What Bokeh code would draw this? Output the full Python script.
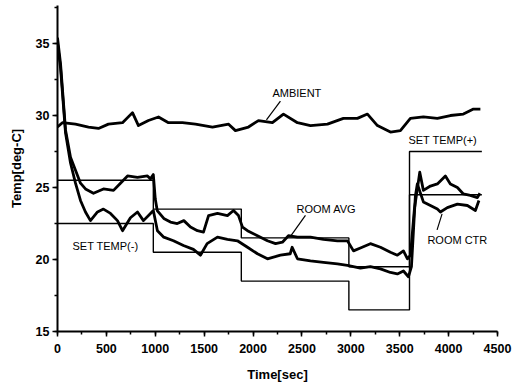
from bokeh.plotting import figure
from bokeh.models import SingleIntervalTicker, Range1d
from bokeh.core.properties import value
from bokeh.embed import file_html
from bokeh.resources import INLINE

# ---- data ----
amb_t = [0, 50, 184, 317, 419, 521, 665, 767, 828, 930, 1033, 1135, 1278, 1411, 1585, 1750, 1820,
         1953, 2055, 2198, 2311, 2454, 2587, 2761, 2924, 3067, 3170, 3272, 3405, 3507, 3609, 3742,
         3885, 4018, 4151, 4254, 4325]
amb_v = [29.2, 29.5, 29.4, 29.2, 29.1, 29.4, 29.5, 30.2, 29.3, 29.65, 29.9, 29.5, 29.5, 29.4, 29.2,
         29.4, 28.95, 29.2, 29.65, 29.5, 30.1, 29.5, 29.3, 29.4, 29.8, 29.8, 30.1, 29.3, 28.85, 28.95,
         29.8, 29.9, 29.8, 30.0, 30.1, 30.45, 30.45]

avg_t = [0, 31, 82, 133, 184, 235, 286, 368, 470, 573, 644, 716, 818, 920, 951, 980, 1000, 1020,
         1087, 1155, 1225, 1292, 1360, 1431, 1493, 1545, 1636, 1738, 1800, 1851, 1892, 1943, 2045,
         2147, 2230, 2300, 2362, 2454, 2587, 2720, 2863, 2965, 3027, 3098, 3200, 3303, 3405, 3476,
         3538, 3579, 3610, 3650, 3705, 3742, 3814, 3885, 3967, 4018, 4090, 4151, 4222, 4294, 4320]
avg_v = [35.4, 33.6, 29.0, 27.1, 26.2, 25.3, 24.9, 24.6, 24.9, 24.8, 25.3, 25.8, 25.7, 25.8, 25.6,
         25.9, 24.2, 23.4, 22.85, 22.6, 22.5, 22.7, 22.25, 22.0, 21.9, 23.05, 23.2, 23.05, 23.4,
         23.05, 22.25, 22.0, 21.65, 21.3, 21.1, 21.2, 21.65, 21.55, 21.55, 21.4, 21.3, 21.3, 20.6,
         20.8, 21.1, 20.85, 20.5, 20.3, 20.6, 20.05, 20.3, 23.5, 26.06, 24.8, 25.1, 25.25, 25.8,
         25.25, 25.0, 24.55, 24.45, 24.3, 24.6]

ctr_t = [0, 31, 82, 133, 184, 235, 286, 337, 409, 470, 542, 613, 665, 746, 818, 879, 951, 980,
         1022, 1087, 1186, 1288, 1390, 1462, 1530, 1636, 1738, 1840, 1943, 2045, 2147, 2280, 2380,
         2400, 2454, 2587, 2720, 2863, 2965, 3098, 3200, 3303, 3405, 3476, 3538, 3589, 3620, 3660,
         3680, 3742, 3814, 3885, 3916, 3987, 4090, 4192, 4274, 4310]
ctr_v = [35.0, 33.3, 28.8, 26.7, 25.3, 24.1, 23.3, 22.7, 23.3, 23.5, 23.2, 22.7, 22.0, 22.9, 23.3,
         22.7, 23.2, 23.4, 22.0, 21.55, 21.3, 20.97, 20.7, 20.3, 21.1, 21.55, 21.4, 21.3, 20.85,
         20.4, 20.05, 20.3, 20.4, 20.85, 20.05, 19.9, 19.8, 19.7, 19.6, 19.4, 19.5, 19.35, 19.1,
         19.0, 19.2, 18.8, 19.5, 24.4, 25.25, 24.0, 23.75, 23.5, 23.3, 23.6, 23.85, 23.75, 23.4, 24.1]

step_times = [0, 980, 1880, 2980, 3600]
step_end = 4340
set_plus = [25.5, 23.5, 21.5, 19.5, 27.5]
set_minus = [22.5, 20.5, 18.5, 16.5, 24.5]

x_ticks_interval = 500
y_ticks_interval = 5

# ---- labels (text, x, y) and pointers ----
labels = [("AMBIENT", 2198, 31.56), ("SET TEMP(+)", 3589, 28.33), ("SET TEMP(-)", 153, 20.94),
          ("ROOM AVG", 2444, 23.5), ("ROOM CTR", 3783, 21.32)]
pointers = [(2280, 31.0, 2137, 29.7), (2536, 23.06, 2390, 21.67), (3882, 22.06, 3933, 23.17)]

FONT = "Liberation Sans"

p = figure(width=526, height=388, output_backend="svg", toolbar_location=None,
           x_range=Range1d(0, 4500), y_range=Range1d(15, 37.64),
           min_border_left=57, min_border_right=29, min_border_top=5, min_border_bottom=57)
p.outline_line_color = None
p.grid.visible = False
p.background_fill_color = "white"

# set temps as step lines
st = step_times + [step_end]
p.step(st, set_plus + [set_plus[-1]], mode="after", line_color="black", line_width=1.4)
p.step(st, set_minus + [set_minus[-1]], mode="after", line_color="black", line_width=1.4)

for tt, vv in ((amb_t, amb_v), (avg_t, avg_v), (ctr_t, ctr_v)):
    p.line(tt, vv, line_color="black", line_width=2.8, line_join="round")

p.text(x=[l[1] for l in labels], y=[l[2] for l in labels], text=[l[0] for l in labels],
       text_font=value(FONT), text_font_size="11px", text_baseline="middle", text_align="left",
       text_color="black")
p.segment(x0=[q[0] for q in pointers], y0=[q[1] for q in pointers],
          x1=[q[2] for q in pointers], y1=[q[3] for q in pointers], line_color="black", line_width=1.2)

p.xaxis.ticker = SingleIntervalTicker(interval=x_ticks_interval, num_minor_ticks=2)
p.yaxis.ticker = SingleIntervalTicker(interval=y_ticks_interval, num_minor_ticks=2)
p.xaxis.axis_label = "Time[sec]"
p.yaxis.axis_label = "Temp[deg-C]"
for ax in (p.xaxis[0], p.yaxis[0]):
    ax.axis_line_width = 2
    ax.axis_line_color = "black"
    ax.major_tick_line_width = 1.5
    ax.minor_tick_line_width = 1.5
    ax.major_tick_line_color = "black"
    ax.minor_tick_line_color = "black"
    ax.major_tick_in = 0
    ax.major_tick_out = 5
    ax.minor_tick_in = 0
    ax.minor_tick_out = 3
    ax.major_label_text_font = FONT
    ax.major_label_text_font_size = "12.5px"
    ax.major_label_text_font_style = "bold"
    ax.major_label_text_color = "black"
    ax.axis_label_text_font = FONT
    ax.axis_label_text_font_size = "13px"
    ax.axis_label_text_font_style = "bold"
    ax.axis_label_text_color = "black"
p.xaxis.major_label_standoff = 7
p.xaxis.axis_label_standoff = 11
p.yaxis.major_label_standoff = 3
p.yaxis.axis_label_standoff = 9

open("out.html", "w").write(file_html(p, INLINE))
